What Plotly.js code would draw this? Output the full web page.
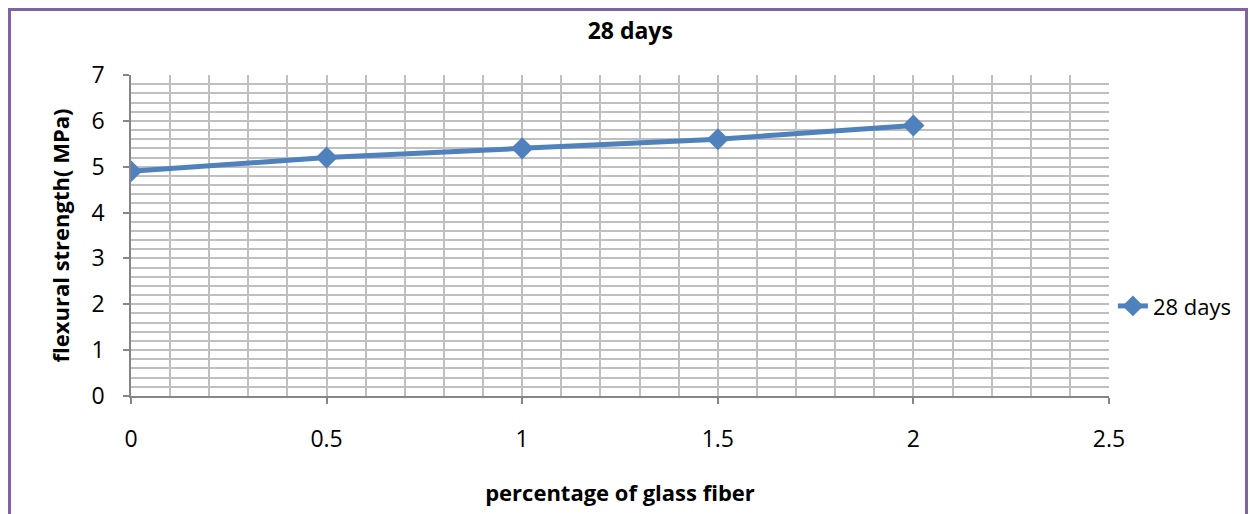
<!DOCTYPE html>
<html>
<head>
<meta charset="utf-8">
<script src="https://cdn.plot.ly/plotly-3.0.1.min.js"></script>
<style>
html,body{margin:0;padding:0;background:#fff;}
#frame{position:absolute;left:8px;top:8px;width:1240px;height:520px;border:3px solid #8064A2;border-bottom:none;box-sizing:border-box;pointer-events:none;z-index:10;}
#chart{position:absolute;left:0;top:0;width:1253px;height:514px;}
</style>
</head>
<body>
<div id="chart"></div>
<div id="frame"></div>
<script>
const seriesName = "28 days";
const fiberPct = [0, 0.5, 1, 1.5, 2];
const strength = [4.9, 5.2, 5.4, 5.6, 5.9];
const xTicks = [0, 0.5, 1, 1.5, 2, 2.5];
const yTicks = [0, 1, 2, 3, 4, 5, 6, 7];

const fontFam = "'Open Sans', Lato, sans-serif";
const trace = {
  x: fiberPct, y: strength, name: seriesName, type: 'scatter', mode: 'lines+markers',
  line: {color: '#4F81BD', width: 5},
  marker: {symbol: 'diamond', size: 17, color: '#4F81BD'}
};
const layout = {
  width: 1253, height: 514,
  margin: {l: 131, r: 144, t: 75, b: 118},
  paper_bgcolor: '#fff', plot_bgcolor: '#fff',
  font: {family: fontFam, color: '#000', size: 22},
  title: {text: '<b>28 days</b>', x: 0.503, xanchor: 'center', y: 0.94, yanchor: 'middle', font: {size: 23, family: fontFam}},
  xaxis: {
    range: [0, 2.5], tickvals: xTicks, ticktext: xTicks.map(String),
    showgrid: true, gridcolor: '#BFBFBF', gridwidth: 1.5,
    minor: {dtick: 0.1, showgrid: true, gridcolor: '#BFBFBF', gridwidth: 1.5},
    showline: true, linecolor: '#868686', linewidth: 1.5,
    ticks: 'outside', ticklen: 6, tickcolor: '#868686', tickwidth: 1.5,
    ticklabelstandoff: 16, zeroline: false,
    tickfont: {size: 23},
    title: {text: '<b>percentage of glass fiber</b>', standoff: 32, font: {size: 22}}
  },
  yaxis: {
    range: [0, 7], tickvals: yTicks,
    showgrid: true, gridcolor: '#BFBFBF', gridwidth: 1.5,
    minor: {dtick: 0.2, showgrid: true, gridcolor: '#BFBFBF', gridwidth: 1.5},
    showline: true, linecolor: '#868686', linewidth: 1.5,
    ticks: 'outside', ticklen: 6, tickcolor: '#868686', tickwidth: 1.5,
    ticklabelstandoff: 14, zeroline: false,
    tickfont: {size: 23},
    title: {text: '<b>flexural strength( MPa)</b>', standoff: 16, font: {size: 22}}
  },
  showlegend: true,
  legend: {x: 1.004, xanchor: 'left', y: 0.28, yanchor: 'middle', font: {size: 22}, bgcolor: 'rgba(0,0,0,0)'}
};
Plotly.newPlot('chart', [trace], layout, {displayModeBar: false});
</script>
</body>
</html>
